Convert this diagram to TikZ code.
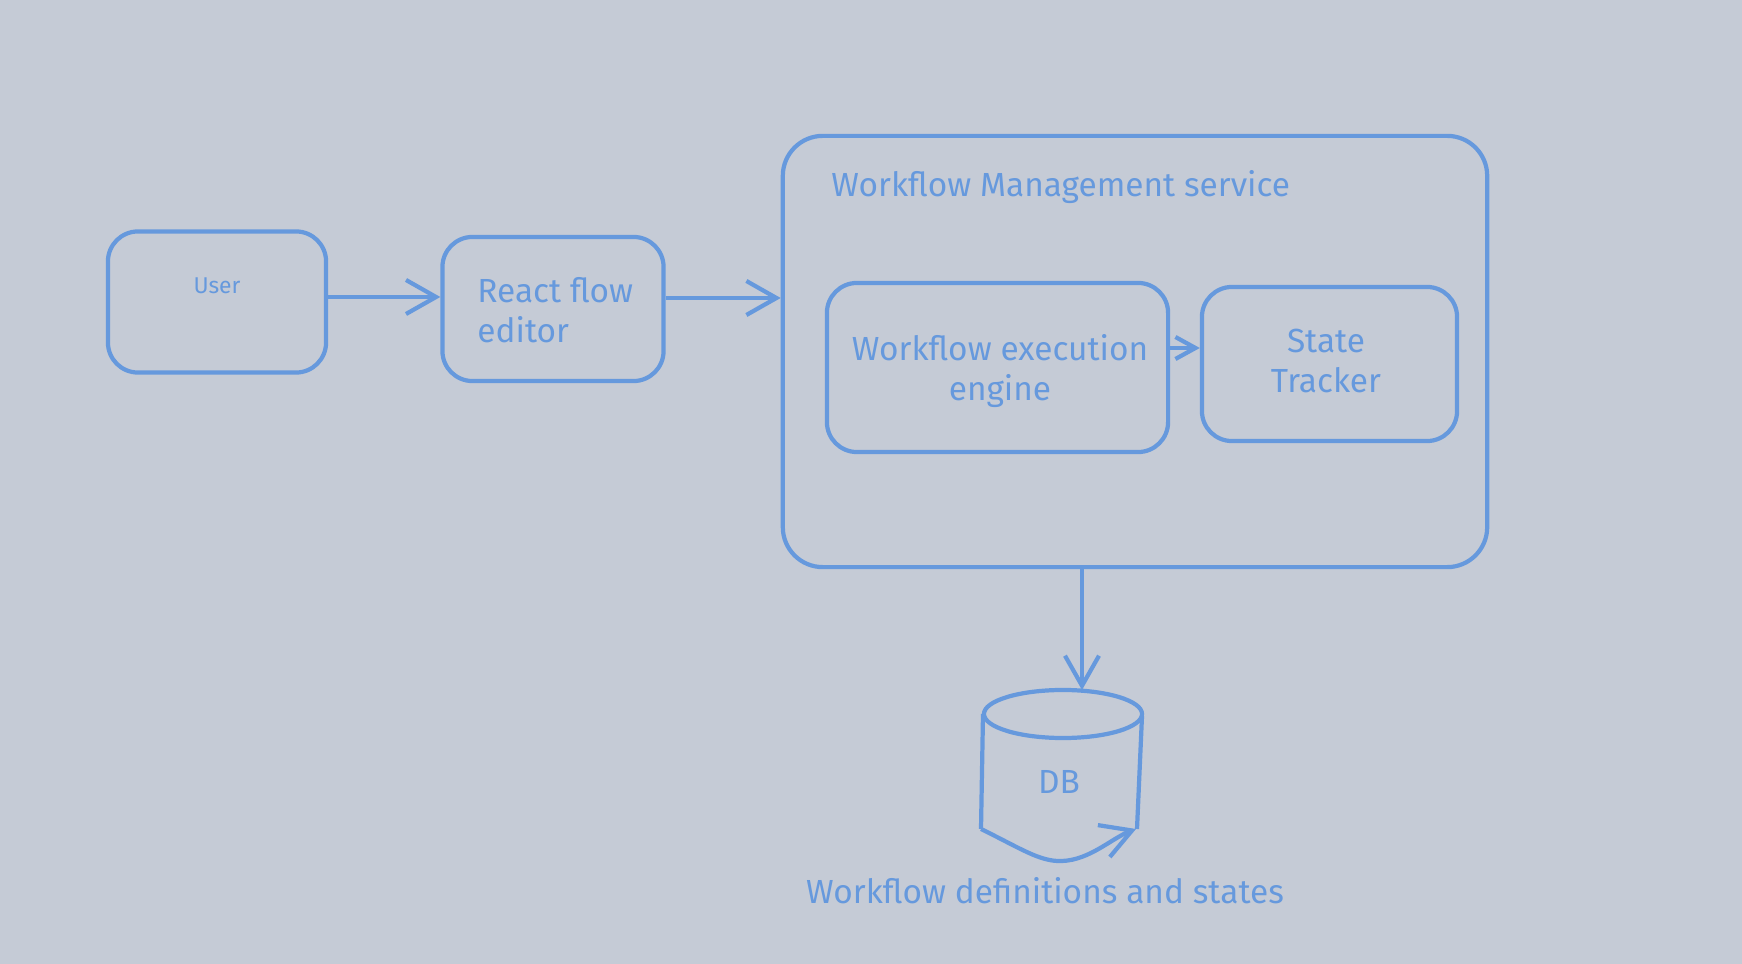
\documentclass[tikz,border=0pt]{standalone}
\usepackage{fontspec}
\setmainfont{Fira Sans}
\usetikzlibrary{arrows.meta,positioning}
\definecolor{bgcol}{RGB}{197,203,214}
\definecolor{ink}{RGB}{102,153,221}

\begin{document}
\begin{tikzpicture}[x=0.01cm,y=-0.01cm,
  box/.style={draw=ink,line width=1.2pt,rounded corners=0.3cm,inner sep=0pt},
  txt/.style={text=ink,font=\fontsize{9.5}{11.4}\selectfont,align=center},
  arr/.style={draw=ink,line width=1.2pt,-{Straight Barb[length=0.3cm,width=0.34cm]}}]
  \fill[bgcol] (0,0) rectangle (1742,964);
  \useasboundingbox (0,0) rectangle (1742,964);
  \node[box,minimum width=2.18cm,minimum height=1.41cm] (user) at (217,302) {};
  \node[box,minimum width=2.21cm,minimum height=1.44cm] (react) at (553,309) {};
  \node[box,rounded corners=0.4cm,minimum width=7.04cm,minimum height=4.31cm] (wms) at (1135,351.5) {};
  \node[box,minimum width=3.41cm,minimum height=1.69cm] (engine) at (997.5,367.5) {};
  \node[box,minimum width=2.55cm,minimum height=1.54cm] (tracker) at (1329.5,364) {};
  \node[txt,font=\fontsize{6.5}{8}\selectfont] (usertxt) at (217,286) {User};
  \node[txt,align=left,anchor=west] (reacttxt) at (465,310) {React flow\\editor};
  \node[txt,anchor=west] (wmstxt) at (819,187) {Workflow Management service};
  \node[txt] (enginetxt) at (1000,371) {Workflow execution\\engine};
  \node[txt] (trackertxt) at (1326,361) {State\\Tracker};
  \node[txt] (db) at (1059,782) {DB};
  \node[txt] (dbtxt) at (1045,891) {Workflow definitions and states};
  % database drum
  \draw[ink,line width=1.2pt] (1063,714) ellipse (0.79cm and 0.24cm);
  \draw[ink,line width=1.2pt] (983,714) -- (981,829);
  \draw[ink,line width=1.2pt] (1142,716) -- (1137,829);
  \draw[arr] (981,829) .. controls (1020,848) and (1040,862) .. (1062,861)
    .. controls (1090,860) and (1112,838) .. (1136,829);
  \coordinate (dbtop) at (1082,690);
  % connectors
  \coordinate (u1) at ([yshift=0.05cm]user.east);
  \coordinate (r1) at ([yshift=0.11cm]react.east);
  \coordinate (e1) at ([yshift=0.195cm]engine.east);
  \draw[arr] (u1) -- (u1 -| react.west);
  \draw[arr] (r1) -- (r1 -| wms.west);
  \draw[arr,-{Straight Barb[length=0.2cm,width=0.22cm]}] ([xshift=-0.04cm]e1) -- (e1 -| tracker.west);
  \draw[arr] (dbtop |- wms.south) -- (dbtop);
\end{tikzpicture}
\end{document}
